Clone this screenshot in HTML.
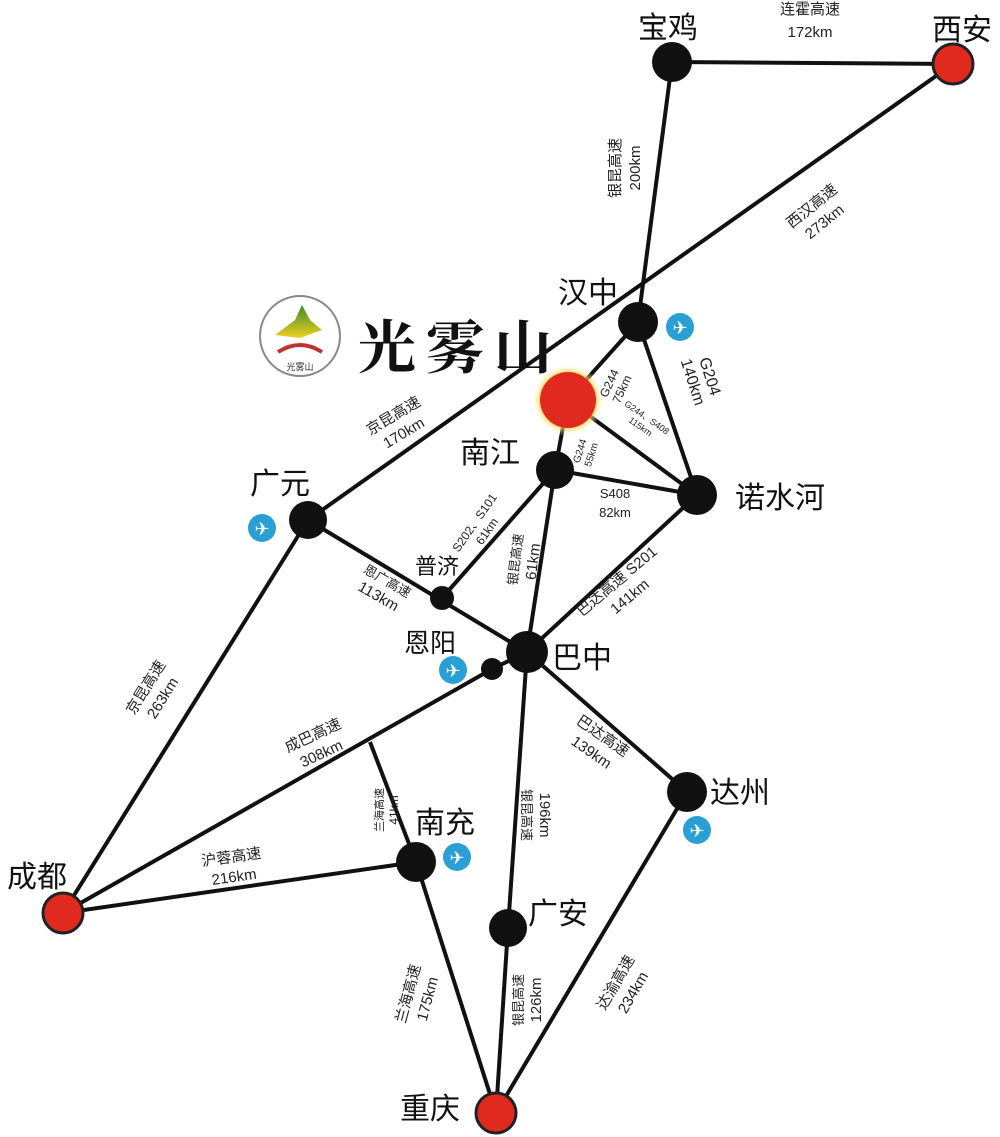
<!DOCTYPE html>
<html><head><meta charset="utf-8"><style>
html,body{margin:0;padding:0;background:#fff;}
svg{display:block;font-family:"Liberation Sans","Noto Sans CJK SC",sans-serif;}
.l{stroke:#111;stroke-width:4;fill:none;}
.t{fill:#222;font-size:15px;text-anchor:middle;}
.c{fill:#111;font-size:30px;text-anchor:middle;}
</style></head><body>
<svg width="1000" height="1137" viewBox="0 0 1000 1137">
<defs><radialGradient id="g"><stop offset="0.7" stop-color="#f5c400"/><stop offset="1" stop-color="#fff" stop-opacity="0"/></radialGradient>
<linearGradient id="m" x1="0" y1="0" x2="0" y2="1"><stop offset="0" stop-color="#3a8a2a"/><stop offset="1" stop-color="#f0d020"/></linearGradient></defs>
<g class="l">
<line x1="672" y1="62" x2="953" y2="64"/>
<line x1="672" y1="62" x2="638" y2="322"/>
<line x1="953" y1="64" x2="308" y2="520"/>
<line x1="638" y1="322" x2="568" y2="400"/>
<line x1="568" y1="400" x2="555" y2="470"/>
<line x1="568" y1="400" x2="697" y2="495"/>
<line x1="638" y1="322" x2="697" y2="495"/>
<line x1="555" y1="470" x2="697" y2="495"/>
<line x1="555" y1="470" x2="442" y2="598"/>
<line x1="555" y1="470" x2="527" y2="652"/>
<line x1="697" y1="495" x2="527" y2="652"/>
<line x1="308" y1="520" x2="527" y2="652"/>
<line x1="308" y1="520" x2="63" y2="913"/>
<line x1="63" y1="913" x2="492" y2="669"/>
<line x1="492" y1="669" x2="527" y2="652"/>
<line x1="527" y1="652" x2="687" y2="792"/>
<line x1="527" y1="652" x2="508" y2="928"/>
<line x1="508" y1="928" x2="496" y2="1113"/>
<line x1="687" y1="792" x2="496" y2="1113"/>
<line x1="63" y1="913" x2="416" y2="862"/>
<line x1="416" y1="862" x2="496" y2="1113"/>
<line x1="370" y1="742" x2="416" y2="862"/>
</g>
<g fill="#111">
<circle cx="672" cy="62" r="20"/><circle cx="638" cy="322" r="20"/><circle cx="555" cy="470" r="19"/>
<circle cx="697" cy="495" r="20"/><circle cx="308" cy="520" r="19"/><circle cx="442" cy="598" r="12"/>
<circle cx="527" cy="652" r="21"/><circle cx="492" cy="669" r="11"/><circle cx="687" cy="792" r="20"/>
<circle cx="416" cy="862" r="20"/><circle cx="508" cy="928" r="19"/>
</g>
<g fill="#e02a20" stroke="#222" stroke-width="3">
<circle cx="953" cy="64" r="20"/><circle cx="63" cy="913" r="20"/><circle cx="496" cy="1113" r="20"/>
</g>
<circle cx="568" cy="400" r="36" fill="url(#g)"/>
<circle cx="568" cy="400" r="28" fill="#e02a20"/>
<g fill="#2a9fd6">
<circle cx="680" cy="327" r="14"/><circle cx="262" cy="528" r="14"/><circle cx="453" cy="670" r="14"/>
<circle cx="697" cy="830" r="14"/><circle cx="457" cy="857" r="14"/>
</g>
<g fill="#fff" font-size="18" text-anchor="middle">
<text x="680" y="334">✈</text><text x="262" y="535">✈</text><text x="453" y="677">✈</text><text x="697" y="837">✈</text><text x="457" y="864">✈</text>
</g>
<g class="c">
<text x="668" y="38">宝鸡</text><text x="962" y="40">西安</text><text x="588" y="303">汉中</text>
<text x="490" y="463">南江</text><text x="780" y="508">诺水河</text><text x="280" y="494">广元</text>
<text x="582" y="668">巴中</text><text x="740" y="803">达州</text><text x="445" y="833">南充</text>
<text x="37" y="887">成都</text><text x="558" y="924">广安</text><text x="430" y="1119">重庆</text>
</g>
<text x="437" y="574" style="fill:#111;font-size:22px;text-anchor:middle">普济</text>
<text x="430" y="652" style="fill:#111;font-size:26px;text-anchor:middle">恩阳</text>
<circle cx="300" cy="336" r="40" fill="#fff" stroke="#888" stroke-width="2"/>
<path d="M275 335 L295 320 L302 305 L310 320 L322 330 L300 338 Z" fill="url(#m)"/>
<path d="M278 352 Q300 338 322 352" stroke="#c03030" stroke-width="4" fill="none"/>
<text x="300" y="370" font-size="9" text-anchor="middle" fill="#333">光雾山</text>
<text x="460" y="368" font-size="58" text-anchor="middle" fill="#111" font-weight="bold" letter-spacing="10" font-family="'Noto Serif CJK SC',serif">光雾山</text>
<g class="t">
<text x="810" y="14">连霍高速</text><text x="810" y="37">172km</text>
<g transform="translate(620,168) rotate(-90)"><text x="0" y="0">银昆高速</text><text x="0" y="20">200km</text></g>
<g transform="translate(815,210) rotate(-39)"><text x="0" y="0">西汉高速</text><text x="0" y="20">273km</text></g>
<g transform="translate(396,420) rotate(-31)"><text x="0" y="0">京昆高速</text><text x="0" y="20">170km</text></g>
<g transform="translate(150,690) rotate(-58)"><text x="0" y="0">京昆高速</text><text x="0" y="20">263km</text></g>
<g transform="translate(385,585) rotate(30)"><text x="0" y="0" font-size="13">恩广高速</text><text x="0" y="18">113km</text></g>
<g transform="translate(478,525) rotate(-55)"><text x="0" y="0" font-size="12">S202、S101</text><text x="0" y="15" font-size="12">61km</text></g>
<g transform="translate(520,560) rotate(-83)"><text x="0" y="0" font-size="13">银昆高速</text><text x="0" y="18">61km</text></g>
<g transform="translate(620,585) rotate(-40)"><text x="0" y="0">巴达高速 S201</text><text x="0" y="20">141km</text></g>
<g transform="translate(600,740) rotate(35)"><text x="0" y="0">巴达高速</text><text x="0" y="20">139km</text></g>
<g transform="translate(315,740) rotate(-25)"><text x="0" y="0">成巴高速</text><text x="0" y="20">308km</text></g>
<g transform="translate(383,810) rotate(-90)"><text x="0" y="0" font-size="11">兰海高速</text><text x="0" y="15" font-size="12">41km</text></g>
<g transform="translate(232,862) rotate(-8)"><text x="0" y="0">沪蓉高速</text><text x="0" y="20">216km</text></g>
<g transform="translate(540,815) rotate(90)"><text x="0" y="0">196km</text><text x="0" y="18" font-size="13">银昆高速</text></g>
<g transform="translate(413,995) rotate(-75)"><text x="0" y="0">兰海高速</text><text x="0" y="20">175km</text></g>
<g transform="translate(523,1000) rotate(-90)"><text x="0" y="0" font-size="13">银昆高速</text><text x="0" y="18">126km</text></g>
<g transform="translate(620,985) rotate(-60)"><text x="0" y="0">达渝高速</text><text x="0" y="20">234km</text></g>
<g transform="translate(613,385) rotate(-65)"><text x="0" y="0" font-size="12">G244</text><text x="0" y="14" font-size="12">75km</text></g>
<g transform="translate(705,378) rotate(72)"><text x="0" y="0" font-size="16">G204</text><text x="0" y="18" font-size="16">140km</text></g>
<g transform="translate(645,420) rotate(35)"><text x="0" y="0" font-size="9">G244、S408</text><text x="0" y="11" font-size="9">115km</text></g>
<g transform="translate(583,452) rotate(-72)"><text x="0" y="0" font-size="10">G244</text><text x="0" y="12" font-size="10">55km</text></g>
<text x="615" y="498" font-size="13">S408</text><text x="615" y="517" font-size="13">82km</text>
</g>
</svg>
</body></html>
